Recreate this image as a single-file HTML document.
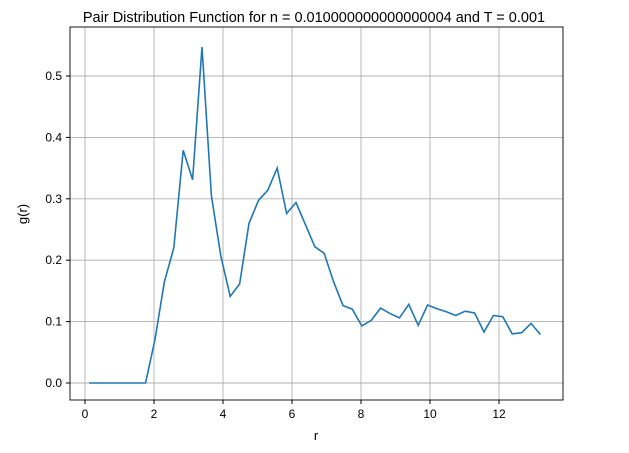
<!DOCTYPE html>
<html><head><meta charset="utf-8"><style>
body{margin:0;background:#fff;}
svg{display:block;font-family:"Liberation Sans","DejaVu Sans",sans-serif;}
</style></head><body>
<svg id="chart" width="629" height="453">
<text x="314" y="22" font-size="14.5" text-anchor="middle">Pair Distribution Function for n = 0.010000000000000004 and T = 0.001</text>
<g id="grid"></g><g id="ticks"></g>
<path id="line" fill="none" stroke="#1f77b4" stroke-width="1.6"></path>
<rect x="70" y="27" width="493" height="373" fill="none" stroke="#000" stroke-width="0.9"></rect>
<text x="316" y="440" font-size="13" text-anchor="middle">r</text>
<text transform="translate(27,214) rotate(-90)" font-size="13" text-anchor="middle">g(r)</text>
</svg>
<script>
const xStart = 0.12, xStep = 0.2725;
const gValues = [0,0,0,0,0,0,0,0.07,0.165,0.22,0.379,0.331,0.547,0.305,0.207,0.141,0.161,0.26,0.297,0.314,0.350,0.276,0.294,0.258,0.222,0.211,0.165,0.126,0.120,0.093,0.102,0.122,0.113,0.106,0.128,0.094,0.127,0.121,0.116,0.110,0.117,0.114,0.083,0.110,0.108,0.080,0.082,0.097,0.079];
const xTicks = [0,2,4,6,8,10,12];
const yTicks = [0.0,0.1,0.2,0.3,0.4,0.5];
const sx = v => 85 + v*34.5;
const sy = v => 383 - v*614;
const NS="http://www.w3.org/2000/svg";
const grid=document.getElementById('grid'), ticks=document.getElementById('ticks');
xTicks.forEach(t=>{
  const l=document.createElementNS(NS,'line');
  l.setAttribute('x1',sx(t));l.setAttribute('x2',sx(t));l.setAttribute('y1',27);l.setAttribute('y2',400);
  l.setAttribute('stroke','#b0b0b0');l.setAttribute('stroke-width','0.9');
  
  
  grid.appendChild(l);
  const tk=document.createElementNS(NS,'line');
  tk.setAttribute('x1',sx(t));tk.setAttribute('x2',sx(t));tk.setAttribute('y1',400);tk.setAttribute('y2',404);tk.setAttribute('stroke','#000');
  
  
  ticks.appendChild(tk);
  const tx=document.createElementNS(NS,'text');
  tx.setAttribute('x',sx(t));tx.setAttribute('y',418);tx.setAttribute('font-size','12');tx.setAttribute('text-anchor','middle');
  tx.textContent=t;
  
  
  ticks.appendChild(tx);
});
yTicks.forEach(t=>{
  const l=document.createElementNS(NS,'line');
  l.setAttribute('x1',70);l.setAttribute('x2',563);l.setAttribute('y1',sy(t));l.setAttribute('y2',sy(t));
  l.setAttribute('stroke','#b0b0b0');l.setAttribute('stroke-width','0.9');
  
  
  grid.appendChild(l);
  const tk=document.createElementNS(NS,'line');
  tk.setAttribute('x1',66);tk.setAttribute('x2',70);tk.setAttribute('y1',sy(t));tk.setAttribute('y2',sy(t));tk.setAttribute('stroke','#000');
  
  
  ticks.appendChild(tk);
  const tx=document.createElementNS(NS,'text');
  tx.setAttribute('x',62);tx.setAttribute('y',sy(t)+4);tx.setAttribute('font-size','12');tx.setAttribute('text-anchor','end');
  tx.textContent=t.toFixed(1);
  
  
  ticks.appendChild(tx);
});
document.getElementById('line').setAttribute('d',gValues.map((v,i)=>(i?'L':'M')+sx(xStart+i*xStep).toFixed(1)+','+sy(v).toFixed(1)).join(' '));
</script>
</body></html>
